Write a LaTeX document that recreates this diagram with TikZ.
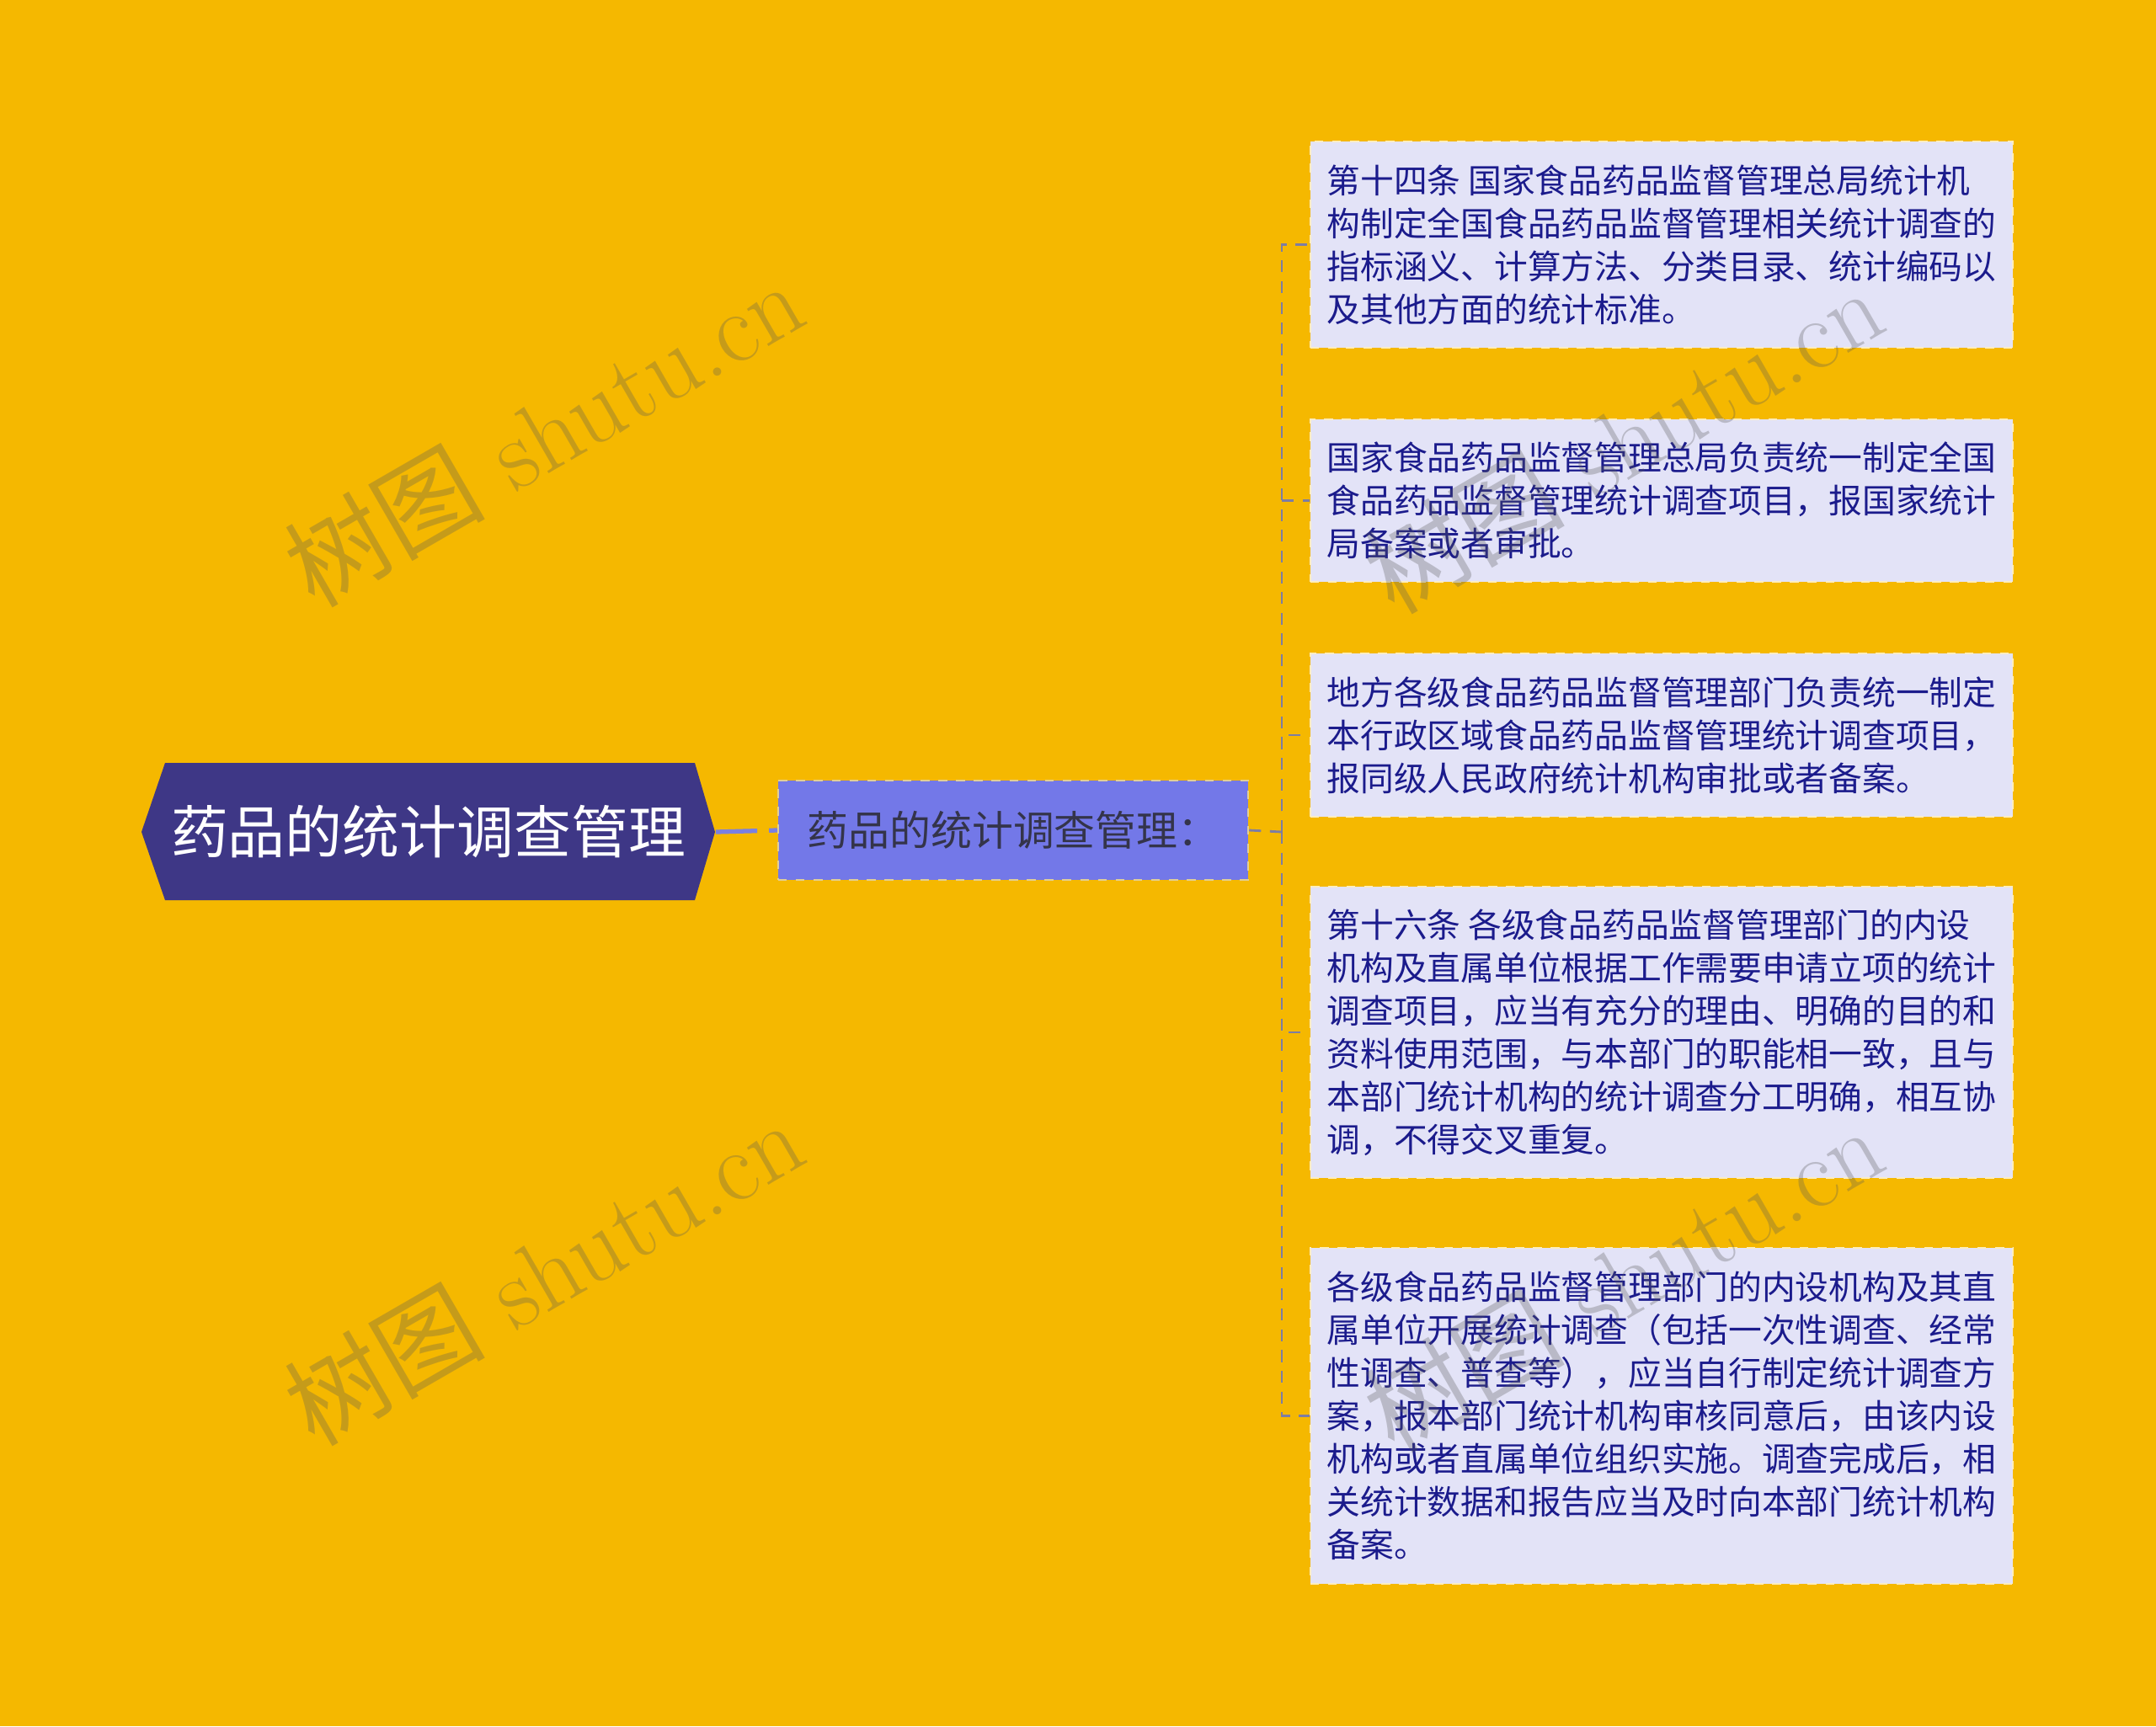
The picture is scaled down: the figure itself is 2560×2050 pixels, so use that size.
\documentclass[tikz,border=0pt]{standalone}
\usepackage{fontspec}
\usepackage{xcolor}
\newfontfamily\cjk{Noto Sans CJK SC}
\definecolor{bgyellow}{HTML}{F5B800}
\definecolor{rootpurple}{HTML}{3E3786}
\definecolor{midblue}{HTML}{7378E8}
\definecolor{leaflilac}{HTML}{E3E3F7}
\definecolor{leafink}{HTML}{1B1B8C}
\definecolor{midink}{HTML}{34344A}
\definecolor{linkgray}{HTML}{7D7DA3}
\definecolor{linkblue}{HTML}{7B80E0}
\tikzstyle{root text}=[
        text = white,
        minimum width = 6.81cm,
        minimum height = 1.63cm,
        inner sep = 0pt,
        font = \cjk\fontsize{19.3}{23}\selectfont
    ]
\tikzstyle{mid box}=[
        draw = white!60!bgyellow!80!gray,
        dashed,
        line width = 0.6pt,
        fill = midblue,
        text = midink,
        minimum width = 5.58cm,
        minimum height = 1.18cm,
        font = \cjk\fontsize{13.9}{17}\selectfont
    ]
\tikzstyle{leaf box}=[
        draw = white!75!bgyellow,
        dashed,
        line width = 0.6pt,
        fill = leaflilac,
        text = leafink,
        align = left,
        minimum width = 8.34cm,
        inner xsep = 0.2cm,
        font = \cjk\fontsize{11.3}{14.5}\selectfont
    ]
\tikzstyle{tree link}=[
        draw = linkgray,
        line width = 0.8pt,
        dash pattern = on 4pt off 3pt
    ]
\tikzstyle{root link}=[
        draw = linkblue,
        line width = 1.5pt,
        dash pattern = on 14pt off 4pt
    ]
\tikzstyle{watermark}=[
        text = gray!70!black,
        opacity = 0.3,
        rotate = 30,
        font = \fontsize{34}{40}\selectfont
    ]

\begin{document}
\begin{tikzpicture}[x=0.01cm, y=-0.01cm]
        \fill[bgyellow] (0,0) rectangle (2560,2050);
        \useasboundingbox (0,0) rectangle (2560,2050);

        % root hexagon
        \fill[rootpurple] (168,988) -- (196,906) -- (825,906) -- (849,988)
            -- (825,1069) -- (196,1069) -- cycle;
        \node[root text] (R) at (508.5,988) {药品的统计调查管理};
        \node[mid box] (M) at (1203,986) {药品的统计调查管理：};

        \node[leaf box, minimum height = 2.45cm] (L1) at (1973,290.5) {第十四条 国家食品药品监督管理总局统计机\\构制定全国食品药品监督管理相关统计调查的\\指标涵义、计算方法、分类目录、统计编码以\\及其他方面的统计标准。};
        \node[leaf box, minimum height = 1.93cm] (L2) at (1973,594.5) {国家食品药品监督管理总局负责统一制定全国\\食品药品监督管理统计调查项目，报国家统计\\局备案或者审批。};
        \node[leaf box, minimum height = 1.94cm] (L3) at (1973,873) {地方各级食品药品监督管理部门负责统一制定\\本行政区域食品药品监督管理统计调查项目，\\报同级人民政府统计机构审批或者备案。};
        \node[leaf box, minimum height = 3.46cm] (L4) at (1973,1226) {第十六条 各级食品药品监督管理部门的内设\\机构及直属单位根据工作需要申请立项的统计\\调查项目，应当有充分的理由、明确的目的和\\资料使用范围，与本部门的职能相一致，且与\\本部门统计机构的统计调查分工明确，相互协\\调，不得交叉重复。};
        \node[leaf box, minimum height = 3.99cm] (L5) at (1973,1681.5) {各级食品药品监督管理部门的内设机构及其直\\属单位开展统计调查（包括一次性调查、经常\\性调查、普查等），应当自行制定统计调查方\\案，报本部门统计机构审核同意后，由该内设\\机构或者直属单位组织实施。调查完成后，相\\关统计数据和报告应当及时向本部门统计机构\\备案。};

        \coordinate (S) at (1522,988);
        \draw[root link] (R.east) -- (M.west);
        \draw[tree link] (M.east) -- (S);
        \foreach \n in {L1,L2,L3,L4,L5}
            \draw[tree link] (S) |- (\n.west);

        % watermarks
        \node[watermark] (W1) at (645,514) {{\cjk 树图} shutu.cn};
        \node[watermark] (W2) at (645,1510) {{\cjk 树图} shutu.cn};
        \node[watermark] (W3) at (1927,522) {{\cjk 树图} shutu.cn};
        \node[watermark] (W4) at (1927,1518) {{\cjk 树图} shutu.cn};
    \end{tikzpicture}
\end{document}
